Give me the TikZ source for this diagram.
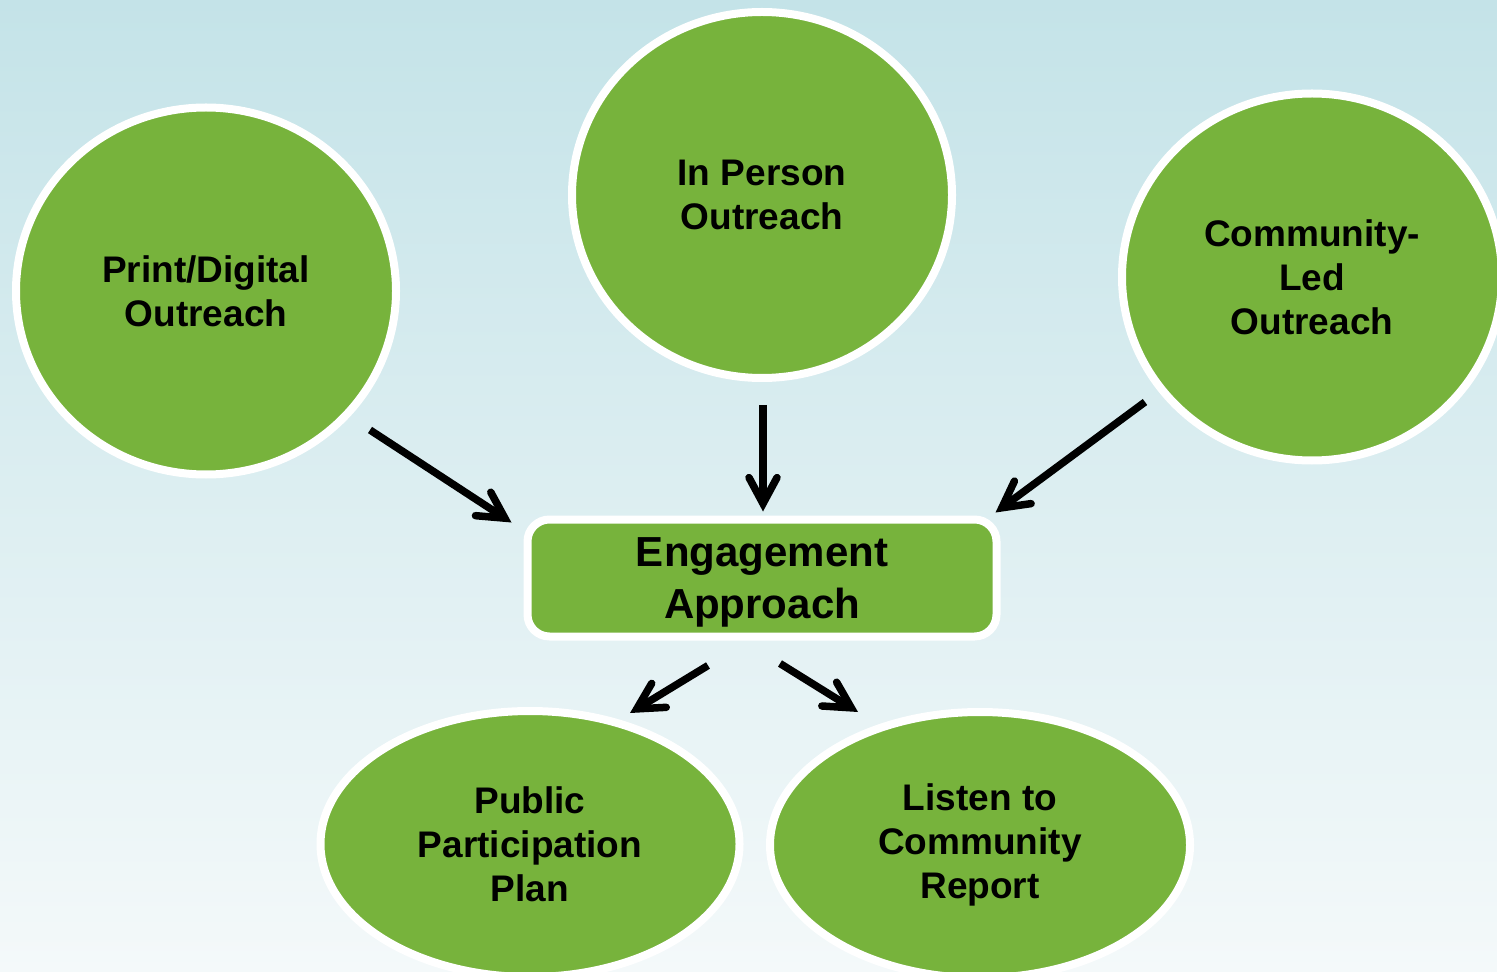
\documentclass[tikz,border=0pt]{standalone}
\usepackage{fontspec}
\setmainfont{Liberation Sans}
\usetikzlibrary{shapes.geometric,arrows.meta}
\definecolor{leaf}{HTML}{77B33C}
\definecolor{skytop}{HTML}{C4E3E8}
\definecolor{skybot}{HTML}{F4F9FA}

\begin{document}
\begin{tikzpicture}[x=.5pt,y=-.5pt,
		bubble/.style={ellipse,fill=leaf,draw=white,line width=4pt,inner sep=0pt,align=center,
			font=\bfseries\fontsize{18.5}{22}\selectfont},
		apbox/.style={rectangle,rounded corners=11pt,fill=leaf,draw=white,line width=4pt,inner sep=0pt,
			minimum width=234.5pt,minimum height=58.5pt,align=center,text depth=-5.5pt,
			font=\bfseries\fontsize{21}{26}\selectfont},
		arr/.style={line width=3.75pt,-{Straight Barb[line cap=round,line join=miter,length=13pt,width=14pt]}}]
		\useasboundingbox (0,0) rectangle (1497,972);
		\clip (0,0) rectangle (1497,972);
		\shade[top color=skytop,bottom color=skybot] (0,0) rectangle (1497,972);
		% top row
		\node[bubble,minimum width=190pt,minimum height=183.5pt] (print) at (206,291){Print/Digital\\Outreach};
		\node[bubble,minimum width=190pt,minimum height=183pt] (inperson) at (762,195){In Person\\Outreach};
		\node[bubble,minimum width=190pt,minimum height=183.5pt] (community) at (1312,277){Community-\\Led\\Outreach};
		% middle
		\node[apbox] (engage) at (762,578){Engagement\\Approach};
		% bottom row
		\node[bubble,minimum width=209.5pt,minimum height=133pt] (plan) at (530,844){Public\\Participation\\Plan};
		\node[bubble,minimum width=210pt,minimum height=133pt] (listen) at (980,845){Listen to\\Community\\Report};
		% arrows
		\draw[arr] ([shift={(164,139)}]print.center) -- ([shift={(-12,7)}]engage.north west);
		\draw[arr] ([shift={(1,23)}]inperson.south) -- ([shift={(1,-4)}]engage.north);
		\draw[arr] ([shift={(-167,125)}]community.center) -- ([shift={(-5,-3)}]engage.north east);
		\draw[arr] ([shift={(-54,25)}]engage.south) -- ([shift={(100,-131)}]plan.center);
		\draw[arr] ([shift={(18,23)}]engage.south) -- ([shift={(-122,-133)}]listen.center);
	\end{tikzpicture}
\end{document}
